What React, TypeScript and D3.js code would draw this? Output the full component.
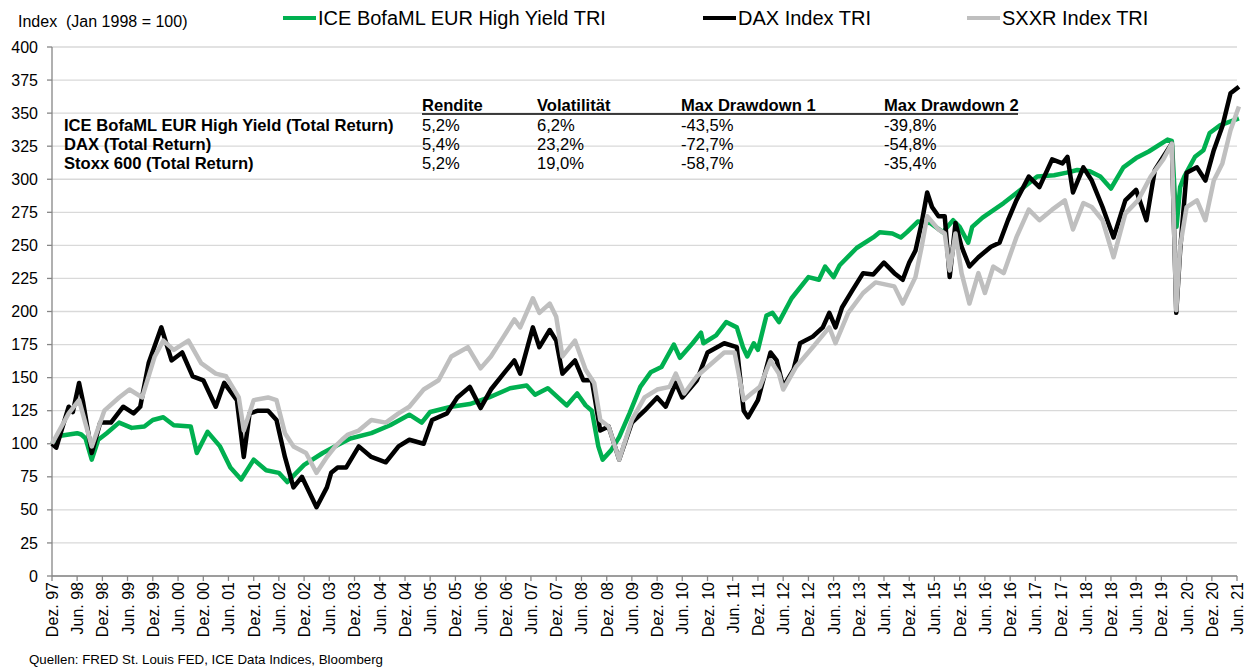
import React from "react";
import * as d3 from "d3";

type Pt = [string, number];

const hyData: Pt[] = [
  ["1997-12-01", 100], ["1998-02-01", 106], ["1998-04-01", 107], ["1998-06-01", 108], ["1998-07-01", 107],
  ["1998-08-01", 104], ["1998-09-15", 88], ["1998-11-01", 103], ["1999-01-01", 108], ["1999-04-01", 116],
  ["1999-07-01", 112], ["1999-10-01", 113], ["1999-12-01", 118], ["2000-02-15", 120], ["2000-05-01", 114],
  ["2000-09-01", 113], ["2000-10-15", 93], ["2001-01-01", 109], ["2001-04-01", 98], ["2001-06-15", 82],
  ["2001-09-01", 73], ["2001-12-01", 88], ["2002-03-01", 80], ["2002-06-01", 78], ["2002-08-01", 71],
  ["2002-12-01", 84], ["2003-04-15", 93], ["2003-08-01", 99], ["2003-11-01", 104], ["2004-04-01", 108],
  ["2004-08-15", 114], ["2005-01-01", 122], ["2005-04-01", 116], ["2005-06-01", 124], ["2005-11-01", 128],
  ["2006-03-15", 130], ["2006-08-01", 135], ["2007-01-01", 142], ["2007-05-01", 144], ["2007-07-01", 137],
  ["2007-10-01", 142], ["2008-02-15", 129], ["2008-05-01", 138], ["2008-07-01", 129], ["2008-08-15", 125],
  ["2008-10-01", 98], ["2008-11-01", 88], ["2009-01-01", 95], ["2009-03-01", 105], ["2009-05-15", 123],
  ["2009-08-01", 143], ["2009-10-15", 154], ["2010-01-01", 158], ["2010-04-01", 175], ["2010-05-15", 165],
  ["2010-08-15", 176], ["2010-10-15", 184], ["2010-11-01", 176], ["2011-02-01", 182], ["2011-04-15", 192],
  ["2011-07-01", 188], ["2011-08-15", 173], ["2011-09-15", 166], ["2011-11-01", 176], ["2011-12-01", 171],
  ["2012-02-01", 197], ["2012-03-15", 199], ["2012-05-01", 192], ["2012-08-01", 210], ["2012-12-01", 226],
  ["2013-02-15", 224], ["2013-04-01", 234], ["2013-06-01", 226], ["2013-07-15", 235], ["2013-11-15", 248],
  ["2014-03-15", 256], ["2014-05-01", 260], ["2014-08-01", 259], ["2014-10-01", 256], ["2014-11-15", 260],
  ["2015-02-01", 268], ["2015-05-01", 267], ["2015-08-01", 260], ["2015-10-15", 269], ["2015-12-01", 264],
  ["2016-02-01", 252], ["2016-03-01", 264], ["2016-05-15", 271], ["2016-10-15", 282], ["2017-02-15", 292],
  ["2017-06-15", 302], ["2017-10-15", 303], ["2018-01-15", 305], ["2018-04-01", 307], ["2018-07-01", 306],
  ["2018-09-15", 302], ["2018-12-01", 293], ["2019-03-01", 309], ["2019-06-01", 316], ["2019-09-01", 321],
  ["2020-01-15", 330], ["2020-02-15", 329], ["2020-03-20", 264], ["2020-04-15", 294], ["2020-05-15", 302],
  ["2020-08-01", 317], ["2020-10-01", 322], ["2020-11-15", 335], ["2021-02-01", 341], ["2021-06-15", 346],
];

const daxData: Pt[] = [
  ["1997-12-01", 100], ["1998-01-01", 97], ["1998-04-01", 128], ["1998-05-01", 124], ["1998-06-15", 146],
  ["1998-07-15", 131], ["1998-09-15", 93], ["1998-11-15", 116], ["1999-02-01", 116], ["1999-05-01", 128],
  ["1999-07-15", 123], ["1999-09-01", 128], ["1999-11-01", 161], ["2000-02-01", 188], ["2000-04-15", 163],
  ["2000-07-01", 169], ["2000-09-15", 151], ["2000-12-01", 148], ["2001-03-01", 128], ["2001-05-01", 146],
  ["2001-08-01", 133], ["2001-09-20", 90], ["2001-11-01", 123], ["2002-01-01", 125], ["2002-03-15", 125],
  ["2002-05-15", 118], ["2002-07-15", 90], ["2002-09-15", 67], ["2002-11-15", 75], ["2003-03-01", 52],
  ["2003-05-15", 67], ["2003-06-15", 78], ["2003-08-01", 82], ["2003-10-01", 82], ["2004-01-01", 98],
  ["2004-04-01", 90], ["2004-07-15", 86], ["2004-10-15", 98], ["2005-01-01", 103], ["2005-04-15", 100],
  ["2005-06-15", 118], ["2005-10-01", 123], ["2005-12-15", 135], ["2006-03-15", 143], ["2006-06-01", 127],
  ["2006-08-15", 141], ["2006-11-15", 153], ["2007-02-01", 163], ["2007-03-15", 153], ["2007-06-15", 188],
  ["2007-08-01", 173], ["2007-10-15", 186], ["2007-12-01", 178], ["2008-01-15", 153], ["2008-04-15", 163],
  ["2008-06-15", 148], ["2008-08-15", 148], ["2008-10-15", 110], ["2008-12-15", 113], ["2009-03-01", 88],
  ["2009-06-01", 116], ["2009-09-01", 125], ["2009-12-01", 135], ["2010-02-01", 128], ["2010-04-15", 146],
  ["2010-06-01", 135], ["2010-09-15", 148], ["2010-12-01", 169], ["2011-04-01", 176], ["2011-07-01", 173],
  ["2011-08-20", 125], ["2011-09-20", 120], ["2011-12-01", 133], ["2012-03-01", 169], ["2012-04-15", 163],
  ["2012-06-01", 143], ["2012-08-15", 156], ["2012-10-01", 176], ["2013-01-01", 181], ["2013-03-15", 188],
  ["2013-05-01", 199], ["2013-06-15", 188], ["2013-08-01", 203], ["2013-10-15", 216], ["2014-01-01", 229],
  ["2014-03-15", 228], ["2014-06-01", 237], ["2014-08-15", 229], ["2014-10-15", 224], ["2014-12-01", 237],
  ["2015-01-15", 246], ["2015-03-01", 267], ["2015-04-10", 290], ["2015-05-15", 279], ["2015-07-01", 272],
  ["2015-08-15", 272], ["2015-09-20", 226], ["2015-11-01", 267], ["2015-12-15", 249], ["2016-02-10", 234],
  ["2016-04-15", 241], ["2016-07-15", 249], ["2016-09-15", 252], ["2016-11-15", 269], ["2017-01-15", 284],
  ["2017-04-15", 302], ["2017-07-01", 294], ["2017-10-01", 315], ["2017-12-15", 312], ["2018-01-20", 317],
  ["2018-03-01", 290], ["2018-05-15", 309], ["2018-07-15", 299], ["2018-10-01", 279], ["2018-12-20", 256],
  ["2019-03-15", 284], ["2019-06-01", 292], ["2019-08-15", 269], ["2019-10-15", 307], ["2019-12-15", 317],
  ["2020-02-15", 327], ["2020-03-18", 199], ["2020-04-15", 246], ["2020-06-01", 305], ["2020-08-15", 309],
  ["2020-10-15", 299], ["2020-12-15", 322], ["2021-02-15", 340], ["2021-04-15", 365], ["2021-06-15", 370],
];

const sxxrData: Pt[] = [
  ["1997-12-01", 100], ["1998-04-01", 123], ["1998-06-15", 133], ["1998-09-15", 98], ["1998-12-15", 125],
  ["1999-04-01", 135], ["1999-06-15", 141], ["1999-09-15", 135], ["1999-12-15", 166], ["2000-02-15", 178],
  ["2000-05-01", 171], ["2000-08-15", 178], ["2000-11-15", 161], ["2001-03-01", 153], ["2001-05-15", 151],
  ["2001-08-15", 135], ["2001-09-20", 110], ["2001-12-01", 133], ["2002-03-15", 135], ["2002-05-15", 133],
  ["2002-07-15", 108], ["2002-09-15", 98], ["2002-12-15", 93], ["2003-03-01", 78], ["2003-05-15", 90],
  ["2003-07-15", 98], ["2003-09-01", 103], ["2003-10-15", 107], ["2004-01-01", 110], ["2004-04-01", 118],
  ["2004-07-15", 116], ["2004-10-15", 123], ["2005-01-01", 128], ["2005-04-15", 141], ["2005-08-01", 148],
  ["2005-11-01", 166], ["2006-03-01", 173], ["2006-06-01", 157], ["2006-08-15", 166], ["2006-11-15", 181],
  ["2007-02-01", 194], ["2007-03-15", 188], ["2007-06-15", 210], ["2007-08-01", 199], ["2007-10-15", 206],
  ["2007-12-01", 196], ["2008-01-15", 166], ["2008-04-15", 178], ["2008-07-01", 156], ["2008-09-01", 146],
  ["2008-10-15", 118], ["2008-12-15", 113], ["2009-03-01", 88], ["2009-06-01", 118], ["2009-09-01", 135],
  ["2009-12-01", 141], ["2010-03-01", 143], ["2010-04-15", 153], ["2010-06-15", 138], ["2010-09-15", 151],
  ["2010-12-01", 158], ["2011-04-01", 169], ["2011-06-15", 169], ["2011-08-20", 133], ["2011-10-15", 138],
  ["2011-12-15", 143], ["2012-03-01", 163], ["2012-05-01", 153], ["2012-06-01", 141], ["2012-09-01", 158],
  ["2013-01-01", 173], ["2013-05-01", 188], ["2013-06-15", 176], ["2013-09-15", 199], ["2014-01-01", 214],
  ["2014-04-01", 222], ["2014-08-15", 219], ["2014-10-15", 206], ["2015-01-15", 226], ["2015-03-01", 249],
  ["2015-04-10", 272], ["2015-07-01", 262], ["2015-08-15", 259], ["2015-09-20", 231], ["2015-11-01", 259],
  ["2015-12-15", 229], ["2016-02-10", 206], ["2016-04-15", 229], ["2016-06-01", 214], ["2016-08-01", 234],
  ["2016-10-15", 229], ["2017-01-15", 256], ["2017-04-15", 277], ["2017-07-01", 269], ["2017-10-01", 277],
  ["2018-01-01", 284], ["2018-03-01", 262], ["2018-05-15", 282], ["2018-07-15", 279], ["2018-10-01", 269],
  ["2018-12-20", 241], ["2019-03-15", 274], ["2019-06-15", 284], ["2019-09-15", 302], ["2019-12-15", 315],
  ["2020-02-15", 327], ["2020-03-18", 201], ["2020-04-15", 249], ["2020-06-01", 279], ["2020-08-15", 284],
  ["2020-10-15", 269], ["2020-12-15", 299], ["2021-02-15", 312], ["2021-04-15", 337], ["2021-06-15", 355],
];

const seriesNames = ["ICE BofaML EUR High Yield TRI", "DAX Index TRI", "SXXR Index TRI"];
const seriesColors = ["#00b050", "#000000", "#bfbfbf"];

const yTickValues = [0, 25, 50, 75, 100, 125, 150, 175, 200, 225, 250, 275, 300, 325, 350, 375, 400];
const xTickLabels = [
  "Dez. 97", "Jun. 98", "Dez. 98", "Jun. 99", "Dez. 99", "Jun. 00", "Dez. 00", "Jun. 01", "Dez. 01",
  "Jun. 02", "Dez. 02", "Jun. 03", "Dez. 03", "Jun. 04", "Dez. 04", "Jun. 05", "Dez. 05", "Jun. 06",
  "Dez. 06", "Jun. 07", "Dez. 07", "Jun. 08", "Dez. 08", "Jun. 09", "Dez. 09", "Jun. 10", "Dez. 10",
  "Jun. 11", "Dez. 11", "Jun. 12", "Dez. 12", "Jun. 13", "Dez. 13", "Jun. 14", "Dez. 14", "Jun. 15",
  "Dez. 15", "Jun. 16", "Dez. 16", "Jun. 17", "Dez. 17", "Jun. 18", "Dez. 18", "Jun. 19", "Dez. 19",
  "Jun. 20", "Dez. 20", "Jun. 21",
];

const tableHeaders = ["Rendite", "Volatilität", "Max Drawdown 1", "Max Drawdown 2"];
const tableRowNames = ["ICE BofaML EUR High Yield (Total Return)", "DAX (Total Return)", "Stoxx 600 (Total Return)"];
const renditeCol = ["5,2%", "5,4%", "5,2%"];
const volaCol = ["6,2%", "23,2%", "19,0%"];
const dd1Col = ["-43,5%", "-72,7%", "-58,7%"];
const dd2Col = ["-39,8%", "-54,8%", "-35,4%"];

const FONT = "'Liberation Sans', Arial, Helvetica, sans-serif";

export default function App() {
  const W = 1250, H = 668;
  const left = 52, right = 1237, top = 47, bottom = 576;
  const parse = d3.timeParse("%Y-%m-%d");
  const x = d3.scaleTime().domain([new Date(1997, 11, 1), new Date(2021, 5, 1)]).range([left, right]);
  const y = d3.scaleLinear().domain([0, 400]).range([bottom, top]);
  const xTickDates = xTickLabels.map((_, i) => d3.timeMonth.offset(new Date(1997, 11, 1), i * 6));

  const line = d3.line<Pt>().x(d => x(parse(d[0]) as Date)).y(d => y(d[1])).curve(d3.curveLinear);
  const allSeries = [hyData, daxData, sxxrData];

  const legendX = [283, 703, 967];
  const colX = [422, 537, 681, 884];
  const colVals = [renditeCol, volaCol, dd1Col, dd2Col];
  const rowY = [131, 150, 169];

  return (
    <svg width={W} height={H} style={{ position: "absolute", left: 0, top: 0, background: "#fff" }} fontFamily={FONT}>
      <rect x={0} y={0} width={W} height={H} fill="#fff" />
      {yTickValues.map(v => (
        <line key={"g" + v} x1={left} x2={right} y1={y(v)} y2={y(v)} stroke="#d9d9d9" strokeWidth={1.3} />
      ))}
      <line x1={left} x2={left} y1={top} y2={bottom} stroke="#868686" strokeWidth={1.3} />
      {yTickValues.map(v => (
        <g key={"yt" + v}>
          <line x1={left - 5} x2={left} y1={y(v)} y2={y(v)} stroke="#868686" strokeWidth={1.3} />
          <text x={38} y={y(v)} dy="0.35em" textAnchor="end" fontSize={16} fill="#000">{v}</text>
        </g>
      ))}
      <line x1={left} x2={right} y1={bottom} y2={bottom} stroke="#868686" strokeWidth={1.3} />
      {xTickDates.map((d, i) => (
        <g key={"xt" + i}>
          <line x1={x(d)} x2={x(d)} y1={bottom} y2={bottom + 5} stroke="#868686" strokeWidth={1.3} />
          <text transform={`translate(${x(d) + 6},${bottom + 6}) rotate(-90)`} textAnchor="end" fontSize={16} fill="#000">
            {xTickLabels[i]}
          </text>
        </g>
      ))}
      {allSeries.map((s, i) => (
        <path key={"s" + i} d={line(s) || ""} fill="none" stroke={seriesColors[i]} strokeWidth={4.5} strokeLinejoin="round" />
      ))}
      <text x={18} y={27} fontSize={16} fill="#000" style={{ whiteSpace: "pre" }}>{"Index  (Jan 1998 = 100)"}</text>
      {seriesNames.map((n, i) => (
        <g key={"l" + i}>
          <line x1={legendX[i]} x2={legendX[i] + 33} y1={18} y2={18} stroke={seriesColors[i]} strokeWidth={4} />
          <text x={legendX[i] + 35} y={25} fontSize={20} fill="#000">{n}</text>
        </g>
      ))}
      {tableHeaders.map((h, i) => (
        <text key={"th" + i} x={colX[i]} y={111} fontSize={16.6} fontWeight="bold" fill="#000">{h}</text>
      ))}
      <line x1={422} x2={1018} y1={114} y2={114} stroke="#000" strokeWidth={1.6} />
      {tableRowNames.map((r, i) => (
        <g key={"tr" + i}>
          <text x={64} y={rowY[i]} fontSize={16.6} fontWeight="bold" fill="#000">{r}</text>
          {colVals.map((c, j) => (
            <text key={"c" + j} x={colX[j]} y={rowY[i]} fontSize={16.6} fill="#000">{c[i]}</text>
          ))}
        </g>
      ))}
      <text x={29} y={664} fontSize={13.3} fill="#000">Quellen: FRED St. Louis FED, ICE Data Indices, Bloomberg</text>
    </svg>
  );
}
